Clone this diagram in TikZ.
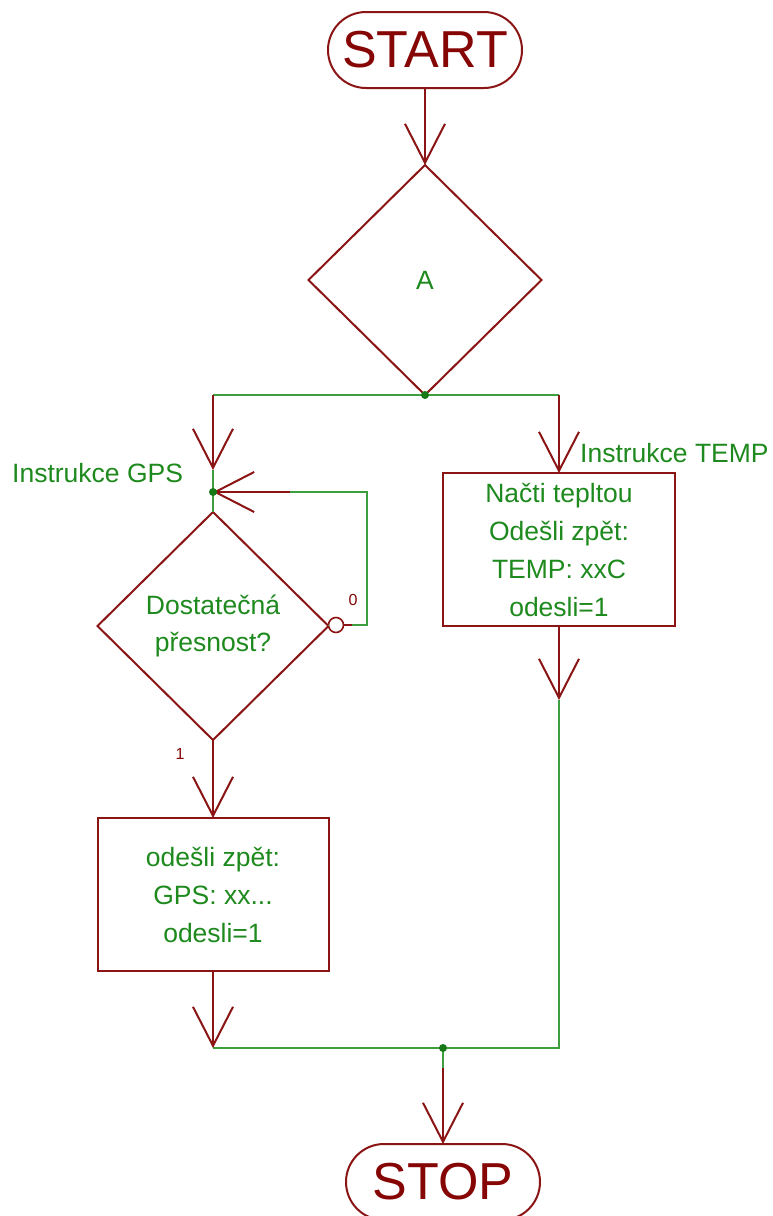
\documentclass[tikz,border=0pt]{standalone}
\usepackage{fontspec}
\setmainfont{Liberation Sans}
\usetikzlibrary{shapes.geometric,shapes.misc,arrows.meta}
\definecolor{wred}{HTML}{8B1414}
\definecolor{tred}{HTML}{860606}
\definecolor{wgrn}{HTML}{3E9E3E}
\definecolor{tgrn}{HTML}{1E8A1E}
\definecolor{dgrn}{HTML}{167816}
\tikzset{
  rw/.style={draw=wred,line width=2pt},
  gw/.style={draw=wgrn,line width=1.6pt},
  arr/.style={rw,-{Straight Barb[length=39pt,width=40pt,line width=2pt]}},
  term/.style={rounded rectangle,draw=wred,line width=2pt,minimum width=194pt,minimum height=76pt,inner sep=0pt,outer sep=0pt,text=tred,font=\fontsize{52}{52}\selectfont},
  dec/.style={diamond,draw=wred,line width=2pt,inner sep=0pt,outer sep=0pt,text=tgrn,align=center,font=\fontsize{26.5}{37}\selectfont},
  proc/.style={rectangle,draw=wred,line width=2pt,inner sep=0pt,outer sep=0pt,text=tgrn,align=center,font=\fontsize{26.5}{38}\selectfont},
  lbl/.style={text=tgrn,font=\fontsize{26.5}{30}\selectfont,inner sep=0pt},
  small/.style={text=tred,font=\fontsize{16}{18}\selectfont,inner sep=0pt},
  dot/.style={circle,fill=dgrn,inner sep=0pt,minimum size=8pt},
  neg/.style={circle,draw=wred,line width=1.6pt,fill=white,inner sep=0pt,minimum size=15pt,outer sep=0pt}
}
\begin{document}
\begin{tikzpicture}[x=1pt,y=-1pt]
\useasboundingbox[fill=white] (0,0) rectangle (773,1216);
% nodes
\node[term] (start) at (425,50) {START};
\node[dec,minimum width=233pt,minimum height=230pt] (A) at (425,280) {A};
\node[dec,minimum width=231pt,minimum height=228pt] (D) at (213,626) {Dostatečná\\přesnost?};
\node[proc,minimum width=232pt,minimum height=153pt] (T) at (559,549.5) {Načti tepltou\\Odešli zpět:\\TEMP: xxC\\odesli=1};
\node[proc,minimum width=231pt,minimum height=153pt] (G) at (213,894.5) {odešli zpět:\\GPS: xx...\\odesli=1};
\node[term] (stop) at (443,1182) {STOP};
\node[neg] (c0) at (336,625) {};
\node[lbl,anchor=west] (lgps) at (12,473) {Instrukce GPS};
\node[lbl,anchor=west] (ltemp) at (580,453) {Instrukce TEMP};
\node[small] (l0) at (353,600) {0};
\node[small] (l1) at (180,754) {1};
% coordinates
\coordinate (jA) at (425,395);
\coordinate (bl) at (213,395);
\coordinate (br) at (559,395);
\coordinate (al) at (213,470);
\coordinate (lp0) at (352,625);
\coordinate (lp1) at (367,625);
\coordinate (lp2) at (367,492);
\coordinate (lp3) at (290,492);
\coordinate (tr) at (559,700);
\coordinate (br2) at (559,1048);
\coordinate (gl) at (213,1048);
\coordinate (jB) at (443,1048);
\coordinate (sb) at (443,1068);
\coordinate (jG) at (213,492);
% connectors
\draw[arr] (start.south) -- (A.north);
\draw[gw] (bl) -- (br);
\draw[arr] (bl) -- (al);
\draw[gw] (al) -- (jG) -- (D.north);
\draw[arr] (br) -- (T.north);
\draw[gw] (D.east) -- (c0.west);
\draw[rw] (c0.east) -- (lp0);
\draw[gw] (lp0) -- (lp1) -- (lp2) -- (lp3);
\draw[arr] (lp3) -- (jG);
\draw[arr] (D.south) -- (G.north);
\draw[arr] (T.south) -- (tr);
\draw[gw] (tr) -- (br2) -- (gl);
\draw[arr] (G.south) -- (gl);
\draw[gw] (jB) -- (sb);
\draw[arr] (sb) -- (stop.north);
\node[dot] at (jA) {};
\node[dot] at (jG) {};
\node[dot] at (jB) {};
\end{tikzpicture}
\end{document}
